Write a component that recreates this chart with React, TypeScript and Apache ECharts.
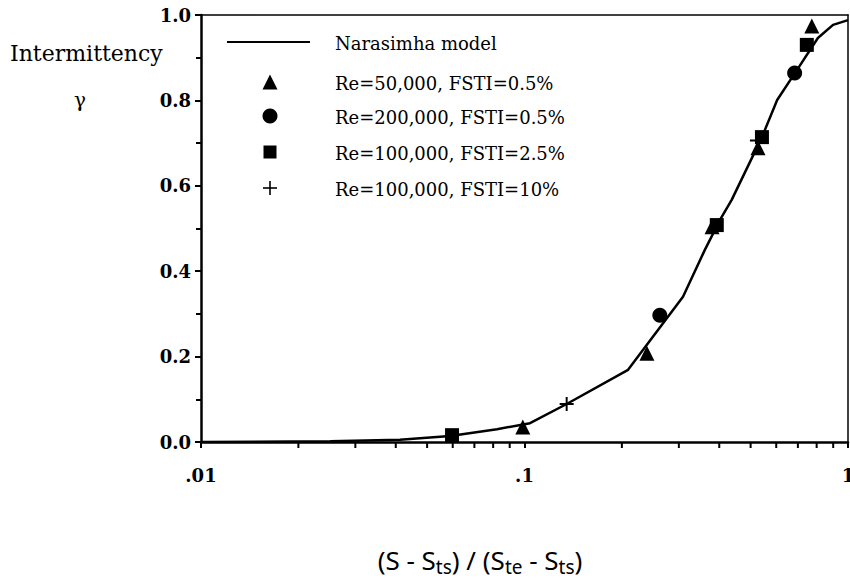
import React, { useEffect, useRef } from "react";
import * as echarts from "echarts";

// Narasimha model curve
const modelX = [0.01, 0.0251, 0.0412, 0.0589, 0.0822, 0.104, 0.135, 0.209, 0.309, 0.361, 0.402, 0.437, 0.542, 0.604, 0.695, 0.807, 0.899, 1.0];
const modelY = [0.0, 0.002, 0.005, 0.014, 0.03, 0.044, 0.089, 0.169, 0.34, 0.45, 0.52, 0.567, 0.714, 0.801, 0.871, 0.946, 0.977, 0.988];

// Re=50,000, FSTI=0.5%
const triX = [0.0988, 0.239, 0.38, 0.527, 0.773];
const triY = [0.035, 0.208, 0.504, 0.689, 0.974];
// Re=200,000, FSTI=0.5%
const cirX = [0.262, 0.684];
const cirY = [0.297, 0.864];
// Re=100,000, FSTI=2.5%
const sqX = [0.0597, 0.393, 0.542, 0.746];
const sqY = [0.016, 0.508, 0.714, 0.93];
// Re=100,000, FSTI=10%
const plusX = [0.135, 0.523];
const plusY = [0.089, 0.706];

const xMinorTicks = [0.02, 0.03, 0.04, 0.05, 0.06, 0.07, 0.08, 0.09, 0.2, 0.3, 0.4, 0.5, 0.6, 0.7, 0.8, 0.9];
const xTickLabels: Record<string, string> = { "0.01": ".01", "0.1": ".1", "1": "1" };

const legendNames = [
  "Narasimha model",
  "Re=50,000, FSTI=0.5%",
  "Re=200,000, FSTI=0.5%",
  "Re=100,000, FSTI=2.5%",
  "Re=100,000, FSTI=10%",
];

const PLUS = "path://M4.3,0 H5.7 V4.3 H10 V5.7 H5.7 V10 H4.3 V5.7 H0 V4.3 H4.3 Z";
const zip = (a: number[], b: number[]) => a.map((v, i) => [v, b[i]]);

export default function App() {
  const ref = useRef<HTMLDivElement>(null);
  useEffect(() => {
    if (!ref.current) return;
    const chart = echarts.init(ref.current, undefined, { renderer: "svg" });
    const serif = "DejaVu Serif";
    const legendRows = [42, 82, 116, 152, 188];
    const legendTextX = 335;
    const mx = 270;
    const graphic: any[] = [
      { type: "text", x: 10, y: 53, style: { text: "Intermittency", font: `22px '${serif}'`, fill: "#000", verticalAlign: "middle" } },
      { type: "text", x: 80, y: 100, style: { text: "γ", font: `20px '${serif}'`, fill: "#000", align: "center", verticalAlign: "middle" } },
      { type: "line", shape: { x1: 227, y1: legendRows[0], x2: 310, y2: legendRows[0] }, style: { stroke: "#000", lineWidth: 2 } },
      { type: "polygon", shape: { points: [[mx, legendRows[1] - 7.5], [mx + 7.5, legendRows[1] + 7.5], [mx - 7.5, legendRows[1] + 7.5]] }, style: { fill: "#000" } },
      { type: "circle", shape: { cx: mx, cy: legendRows[2], r: 7.5 }, style: { fill: "#000" } },
      { type: "rect", shape: { x: mx - 6.5, y: legendRows[3] - 6.5, width: 13, height: 13 }, style: { fill: "#000" } },
      { type: "line", shape: { x1: mx - 7, y1: legendRows[4], x2: mx + 7, y2: legendRows[4] }, style: { stroke: "#000", lineWidth: 1.6 } },
      { type: "line", shape: { x1: mx, y1: legendRows[4] - 7, x2: mx, y2: legendRows[4] + 7 }, style: { stroke: "#000", lineWidth: 1.6 } },
      ...legendNames.map((n, i) => ({
        type: "text",
        x: legendTextX,
        y: legendRows[i] + 1,
        style: { text: n, font: `18px '${serif}'`, fill: "#000", verticalAlign: "middle" },
      })),
      {
        type: "text",
        x: 480,
        y: 560,
        style: {
          text: "{m|(S - S}{s|ts}{m|) / (S}{s|te}{m| - S}{s|ts}{m|)}",
          align: "center",
          verticalAlign: "middle",
          rich: {
            m: { fontFamily: "Noto Sans", fontSize: 26, lineHeight: 32, verticalAlign: "middle", fill: "#000" },
            s: { fontFamily: "Noto Sans", fontSize: 19, lineHeight: 16, verticalAlign: "bottom", fill: "#000" },
          },
        },
      },
    ];

    chart.setOption({
      animation: false,
      backgroundColor: "#fff",
      grid: { left: 201, top: 15, width: 647, height: 427, containLabel: false, outerBoundsMode: "none" },
      xAxis: [
        {
          type: "log",
          logBase: 10,
          min: 0.01,
          max: 1,
          position: "bottom",
          axisLine: { onZero: false, lineStyle: { color: "#000", width: 2.5 } },
          axisTick: { show: true, length: 6, lineStyle: { color: "#000", width: 2 } },
          axisLabel: {
            show: true,
            showMaxLabel: true,
            showMinLabel: true,
            margin: 24,
            color: "#000",
            fontFamily: serif,
            fontSize: 18,
            fontWeight: "bold",
            formatter: (v: number) => xTickLabels[String(+v.toPrecision(3))] ?? "",
          },
          splitLine: { show: false },
        },
        {
          type: "log",
          logBase: 10,
          min: 0.01,
          max: 1,
          position: "top",
          axisLine: { onZero: false, lineStyle: { color: "#000", width: 1.5 } },
          axisTick: { show: false },
          axisLabel: { show: false },
          splitLine: { show: false },
        },
      ],
      yAxis: [
        {
          type: "value",
          min: 0,
          max: 1,
          interval: 0.2,
          position: "left",
          axisLine: { show: true, onZero: false, lineStyle: { color: "#000", width: 2.5 } },
          axisTick: { show: true, length: 6, lineStyle: { color: "#000", width: 2 } },
          minorTick: { show: true, splitNumber: 2, length: 5, lineStyle: { color: "#000", width: 2 } },
          axisLabel: {
            margin: 10,
            color: "#000",
            fontFamily: serif,
            fontSize: 18,
            fontWeight: "bold",
            formatter: (v: number) => v.toFixed(1),
          },
          splitLine: { show: false },
        },
        {
          type: "value",
          min: 0,
          max: 1,
          position: "right",
          axisLine: { show: true, onZero: false, lineStyle: { color: "#000", width: 1.5 } },
          axisTick: { show: false },
          axisLabel: { show: false },
          splitLine: { show: false },
        },
      ],
      series: [
        {
          name: legendNames[0],
          type: "line",
          data: zip(modelX, modelY),
          showSymbol: false,
          symbol: "none",
          lineStyle: { color: "#000", width: 2.5 },
          z: 2,
        },
        { name: legendNames[1], type: "scatter", data: zip(triX, triY), symbol: "triangle", symbolSize: 15, itemStyle: { color: "#000", opacity: 1 }, z: 3 },
        { name: legendNames[2], type: "scatter", data: zip(cirX, cirY), symbol: "circle", symbolSize: 15, itemStyle: { color: "#000", opacity: 1 }, z: 3 },
        { name: legendNames[3], type: "scatter", data: zip(sqX, sqY), symbol: "rect", symbolSize: 14, itemStyle: { color: "#000", opacity: 1 }, z: 3 },
        { name: legendNames[4], type: "scatter", data: zip(plusX, plusY), symbol: PLUS, symbolSize: 14, itemStyle: { color: "#000", opacity: 1 }, z: 4 },
        {
          type: "custom",
          clip: false,
          silent: true,
          data: xMinorTicks.map((v) => [v, 0]),
          encode: { x: 0, y: 1 },
          renderItem: (params: any, api: any) => {
            const p = api.coord([api.value(0), 0]);
            return {
              type: "line",
              shape: { x1: p[0], y1: p[1], x2: p[0], y2: p[1] + 6 },
              style: { stroke: "#000", lineWidth: 2 },
            };
          },
          z: 5,
        },
      ],
      graphic,
    });
    return () => chart.dispose();
  }, []);
  return (
    <div
      ref={ref}
      style={{ position: "fixed", left: 0, top: 0, width: 850, height: 579, background: "#fff" }}
    />
  );
}
